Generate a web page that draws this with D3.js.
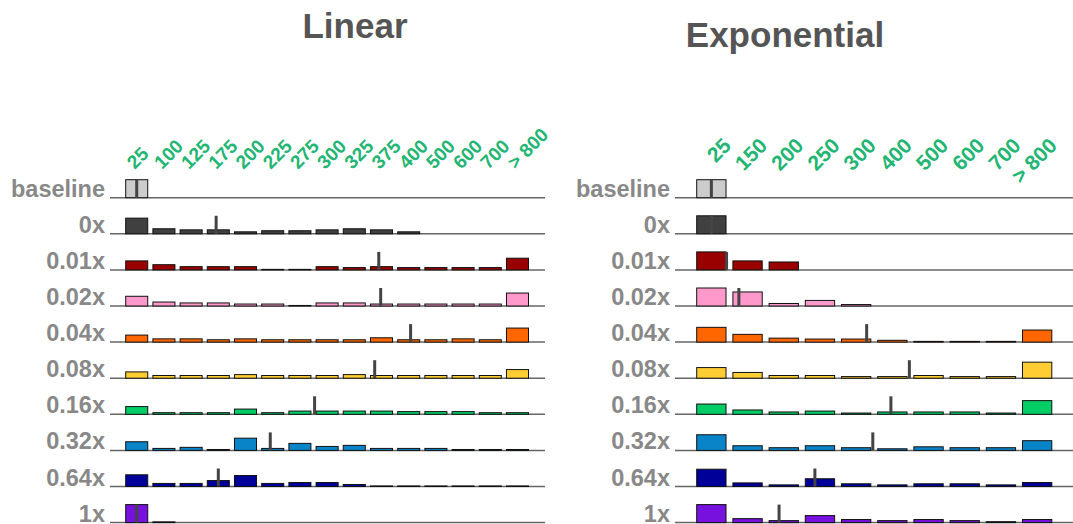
<!DOCTYPE html>
<html>
<head>
<meta charset="utf-8">
<script src="https://cdn.jsdelivr.net/npm/d3@7"></script>
<style>
  body { margin: 0; background: #fff; }
  svg { display: block; font-family: "Liberation Sans", Arial, Helvetica, sans-serif; }
</style>
</head>
<body>
<svg id="chart" width="1073" height="524"></svg>
<script>
/**** DATA *****/
const rows = ['baseline', '0x', '0.01x', '0.02x', '0.04x', '0.08x', '0.16x', '0.32x', '0.64x', '1x'];
const rowColors = ['#cccccc', '#404040', '#990000', '#ff99cc', '#ff6600', '#ffcc33', '#00cc66', '#0a84c8', '#000099', '#7711dd'];

const linearBins = ['25', '100', '125', '175', '200', '225', '275', '300', '325', '375', '400', '500', '600', '700', '> 800'];
const expBins = ['25', '150', '200', '250', '300', '400', '500', '600', '700', '> 800'];

// bar heights per row (share of full row height)
const linearValues = [
  [1, 0, 0, 0, 0, 0, 0, 0, 0, 0, 0, 0, 0, 0, 0],
  [0.87, 0.28, 0.22, 0.22, 0.11, 0.17, 0.17, 0.22, 0.28, 0.22, 0.11, 0, 0, 0, 0],
  [0.5, 0.29, 0.18, 0.18, 0.18, 0.03, 0.03, 0.18, 0.13, 0.18, 0.13, 0.13, 0.13, 0.13, 0.65],
  [0.54, 0.22, 0.17, 0.17, 0.11, 0.11, 0.03, 0.17, 0.17, 0.11, 0.11, 0.11, 0.11, 0.11, 0.72],
  [0.39, 0.18, 0.18, 0.13, 0.18, 0.13, 0.13, 0.13, 0.13, 0.24, 0.13, 0.13, 0.18, 0.13, 0.78],
  [0.35, 0.15, 0.15, 0.15, 0.2, 0.15, 0.15, 0.15, 0.2, 0.15, 0.15, 0.15, 0.15, 0.15, 0.48],
  [0.43, 0.09, 0.09, 0.09, 0.29, 0.09, 0.18, 0.18, 0.18, 0.18, 0.15, 0.15, 0.15, 0.09, 0.09],
  [0.48, 0.11, 0.17, 0.05, 0.68, 0.11, 0.39, 0.22, 0.28, 0.11, 0.11, 0.11, 0.05, 0.05, 0.05],
  [0.65, 0.17, 0.17, 0.33, 0.61, 0.17, 0.22, 0.22, 0.11, 0.03, 0.03, 0.03, 0.03, 0.03, 0.03],
  [1, 0.04, 0, 0, 0, 0, 0, 0, 0, 0, 0, 0, 0, 0, 0]
];
const expValues = [
  [1, 0, 0, 0, 0, 0, 0, 0, 0, 0],
  [1, 0, 0, 0, 0, 0, 0, 0, 0, 0],
  [1, 0.5, 0.44, 0, 0, 0, 0, 0, 0, 0],
  [1, 0.78, 0.14, 0.31, 0.08, 0, 0, 0, 0, 0],
  [0.82, 0.43, 0.22, 0.17, 0.17, 0.1, 0.04, 0.04, 0.04, 0.67],
  [0.59, 0.32, 0.15, 0.15, 0.09, 0.09, 0.15, 0.09, 0.09, 0.89],
  [0.57, 0.24, 0.13, 0.18, 0.07, 0.13, 0.13, 0.13, 0.07, 0.76],
  [0.87, 0.26, 0.15, 0.26, 0.15, 0.09, 0.2, 0.15, 0.15, 0.54],
  [0.96, 0.2, 0.09, 0.43, 0.15, 0.09, 0.15, 0.15, 0.09, 0.22],
  [1, 0.22, 0.11, 0.39, 0.17, 0.11, 0.17, 0.11, 0.05, 0.17]
];

// marker position per row, in bin units (0 = first bin)
const linearMarkers = [0, 2.92, 8.9, 8.97, 10.07, 8.75, 6.54, 4.91, 3.0, 0];
const expMarkers = [0, 0, 0.42, 0.76, 4.29, 5.47, 4.96, 4.46, 2.86, 1.87];

/**** LAYOUT *****/
const svg = d3.select('#chart');
const rowH = 18;
const y = d3.scalePoint().domain(rows).range([197.7, 522.6]);
const h = d3.scaleLinear().domain([0, 1]).range([0, rowH]);

const panels = [
  { title: 'Linear', titleX: 355, titleY: 38, bins: linearBins, values: linearValues, markers: linearMarkers,
    range: [125.7, 528.5], line: [110, 545], labelX: 105, tickSize: 19, tickAnchor: 'start', tickDx: -2, tickY: 170 },
  { title: 'Exponential', titleX: 785, titleY: 47, bins: expBins, values: expValues, markers: expMarkers,
    range: [696.7, 1051.8], line: [675, 1073], labelX: 670, tickSize: 21, tickAnchor: 'end', tickDx: 21, tickY: 147 }
];

panels.forEach(p => {
  const g = svg.append('g');
  const x = d3.scaleBand().domain(p.bins).range(p.range).paddingInner(0.19).paddingOuter(0);
  const mx = d3.scaleLinear().domain([0, p.bins.length - 1])
    .range([x(p.bins[0]) + x.bandwidth() / 2, x(p.bins[p.bins.length - 1]) + x.bandwidth() / 2]);

  g.append('text').text(p.title)
    .attr('x', p.titleX).attr('y', p.titleY)
    .attr('text-anchor', 'middle').attr('font-size', '35px').attr('font-weight', 'bold').attr('fill', '#555');

  // rotated bin labels
  g.append('g').selectAll('text').data(p.bins).join('text')
    .text(d => d)
    .attr('transform', d => `translate(${x(d) + x.bandwidth() / 2 + p.tickDx},${p.tickY}) rotate(-45)`)
    .attr('text-anchor', p.tickAnchor)
    .attr('font-size', p.tickSize + 'px').attr('font-weight', 'bold').attr('fill', '#22b573');

  rows.forEach((r, i) => {
    const ry = y(r);
    const row = g.append('g');
    row.append('text').text(r)
      .attr('x', p.labelX).attr('y', ry - 1)
      .attr('text-anchor', 'end').attr('font-size', '23.5px').attr('font-weight', 'bold').attr('fill', '#888');
    row.append('line')
      .attr('x1', p.line[0]).attr('x2', p.line[1]).attr('y1', ry).attr('y2', ry)
      .attr('stroke', '#666').attr('stroke-width', 1.5);
    row.selectAll('rect.bar').data(p.values[i]).join('rect')
      .attr('class', 'bar')
      .attr('x', (d, j) => x(p.bins[j]))
      .attr('y', d => ry - h(d))
      .attr('width', x.bandwidth())
      .attr('height', d => h(d))
      .attr('fill', rowColors[i])
      .attr('stroke', '#111').attr('stroke-width', 1);
    row.append('rect')
      .attr('x', mx(p.markers[i]) - 1.5).attr('y', ry - rowH)
      .attr('width', 3).attr('height', rowH)
      .attr('fill', '#444');
  });
});
</script>
</body>
</html>
